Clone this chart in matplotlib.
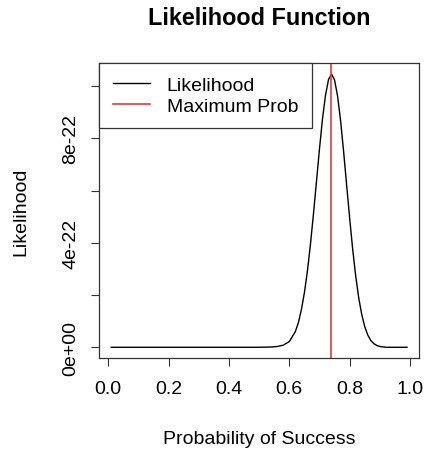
import numpy as np
import matplotlib.pyplot as plt

plt.rcParams['font.family'] = ['Liberation Sans', 'DejaVu Sans']

# Curva (valores en unidades de 1e-22)
prob = [0.01, 0.10, 0.20, 0.30, 0.40, 0.50, 0.54, 0.56, 0.58, 0.60, 0.62, 0.63,
        0.64, 0.65, 0.66, 0.67, 0.68, 0.69, 0.70, 0.71, 0.72, 0.73, 0.74, 0.75,
        0.76, 0.77, 0.78, 0.79, 0.80, 0.81, 0.82, 0.83, 0.84, 0.85, 0.86, 0.87,
        0.88, 0.89, 0.90, 0.92, 0.95, 0.99]
lik = [0.0, 0.0, 0.0, 0.0, 0.0, 0.0, 0.01, 0.03, 0.08, 0.22, 0.60, 0.94,
       1.44, 2.09, 2.92, 3.94, 5.10, 6.35, 7.60, 8.75, 9.66, 10.26, 10.47, 10.24,
       9.62, 8.68, 7.50, 6.22, 4.95, 3.76, 2.74, 1.90, 1.26, 0.79, 0.47, 0.26,
       0.14, 0.07, 0.03, 0.0, 0.0, 0.0]
p_max = 0.737

x = np.array(prob)
y = np.array(lik) * 1e-22

fig = plt.figure(figsize=(4.25, 4.52), dpi=100)
ax = fig.add_axes([0.2341, 0.2053, 0.7513, 0.653])

ax.plot(x, y, color='black', lw=1.0, label='Likelihood')
ax.axvline(p_max, color='#e8383a', lw=1.2, label='Maximum Prob')

ax.set_xlim(-0.0292, 1.0292)
ax.set_ylim(-0.0419e-21, 1.089e-21)

ax.set_xticks([0.0, 0.2, 0.4, 0.6, 0.8, 1.0])
ax.set_xticklabels(['0.0', '0.2', '0.4', '0.6', '0.8', '1.0'])
yt = [0, 2e-22, 4e-22, 6e-22, 8e-22, 1e-21]
ax.set_yticks(yt)
ax.set_yticklabels(['0e+00', '', '4e-22', '', '8e-22', ''], rotation=90, va='center')
ax.tick_params(direction='out', length=5.5, width=0.8, labelsize=14, color='#333333')
ax.tick_params(axis='x', pad=10)
ax.tick_params(axis='y', pad=9)

for s in ax.spines.values():
    s.set_linewidth(0.9)
    s.set_color('#333333')

ax.set_title('Likelihood Function', fontsize=16.8, fontweight='bold', pad=28)
ax.set_xlabel('Probability of Success', fontsize=14, labelpad=24)
ax.set_ylabel('Likelihood', fontsize=14, labelpad=24)

leg = ax.legend(loc='upper left', bbox_to_anchor=(0, 1), borderaxespad=0,
                fancybox=False, edgecolor='#333333', fontsize=14,
                handlelength=1.9, handletextpad=0.85, labelspacing=0.15,
                borderpad=0.7, framealpha=1)
leg.get_frame().set_linewidth(0.9)

plt.savefig('out.png', dpi=100)
